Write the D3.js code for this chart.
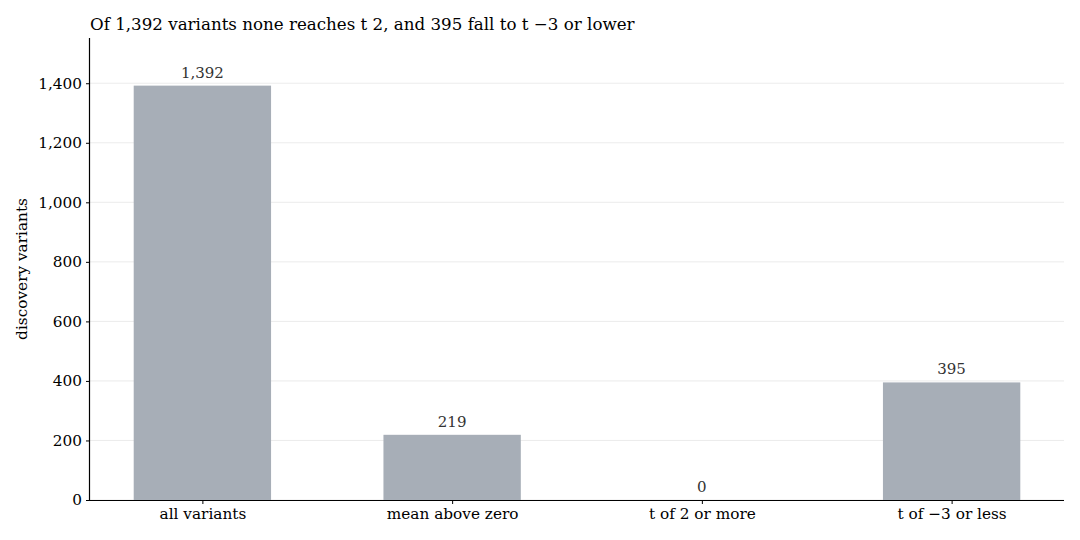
<!DOCTYPE html>
<html>
<head>
<meta charset="utf-8">
<script src="https://cdn.jsdelivr.net/npm/d3@7"></script>
<style>
  body { margin: 0; background: #fff; }
  svg { font-family: "DejaVu Serif", serif; }
</style>
</head>
<body>
<div id="chart"></div>
<script>
// chart data
const categories = ['all variants', 'mean above zero', 't of 2 or more', 't of \u22123 or less'];
const counts = [1392, 219, 0, 395];
const yTicks = [0, 200, 400, 600, 800, 1000, 1200, 1400];
const title = 'Of 1,392 variants none reaches t 2, and 395 fall to t \u22123 or lower';

const width = 1080;
const height = 540;
const margin = { top: 38, right: 16, bottom: 40, left: 90 };

const svg = d3.select('#chart')
  .append('svg')
  .attr('width', width)
  .attr('height', height);

const x = d3.scalePoint()
  .domain(categories)
  .range([margin.left, width - margin.right])
  .padding(0.45);

const barWidth = x.step() * 0.55;

const y = d3.scaleLinear()
  .domain([0, 1552])
  .range([height - margin.bottom, margin.top]);

const fmt = d3.format(',');

// gridlines
svg.append('g')
  .selectAll('line')
  .data(yTicks)
  .enter().append('line')
  .attr('x1', margin.left)
  .attr('x2', width - margin.right)
  .attr('y1', d => y(d))
  .attr('y2', d => y(d))
  .attr('stroke', '#e6e6e6')
  .attr('stroke-width', 0.8);

// bars
svg.selectAll('.bar')
  .data(counts)
  .enter().append('rect')
  .attr('class', 'bar')
  .attr('x', (d, i) => x(categories[i]) - barWidth / 2)
  .attr('width', barWidth)
  .attr('y', d => y(d))
  .attr('height', d => y(0) - y(d))
  .attr('fill', '#a7aeb7');

// value labels
svg.selectAll('.val')
  .data(counts)
  .enter().append('text')
  .attr('class', 'val')
  .attr('x', (d, i) => x(categories[i]))
  .attr('y', d => y(d) - 8)
  .attr('text-anchor', 'middle')
  .attr('font-size', 15)
  .attr('fill', '#333')
  .text(d => fmt(d));

// axes
const xAxis = svg.append('g')
  .attr('transform', `translate(0,${height - margin.bottom})`)
  .call(d3.axisBottom(x).tickSizeOuter(0).tickSize(4).tickPadding(4));
xAxis.select('.domain').attr('d', `M${margin.left},0.5H${width - margin.right}`);

const yAxis = svg.append('g')
  .attr('transform', `translate(${margin.left},0)`)
  .call(d3.axisLeft(y).tickValues(yTicks).tickFormat(fmt).tickSizeOuter(0).tickSize(4).tickPadding(4));
yAxis.select('.domain').attr('d', `M-0.5,${y(0)}V${margin.top}`);

svg.selectAll('.tick text')
  .attr('font-size', 15.3)
  .attr('font-family', '"DejaVu Serif", serif')
  .attr('fill', '#000');
svg.selectAll('.domain').attr('stroke', '#000').attr('stroke-width', 1.2);

// y label
svg.append('text')
  .attr('transform', `translate(27,${(margin.top + height - margin.bottom) / 2}) rotate(-90)`)
  .attr('text-anchor', 'middle')
  .attr('font-size', 15.3)
  .text('discovery variants');

// title
svg.append('text')
  .attr('x', margin.left)
  .attr('y', 30)
  .attr('font-size', 16.7)
  .text(title);
</script>
</body>
</html>
